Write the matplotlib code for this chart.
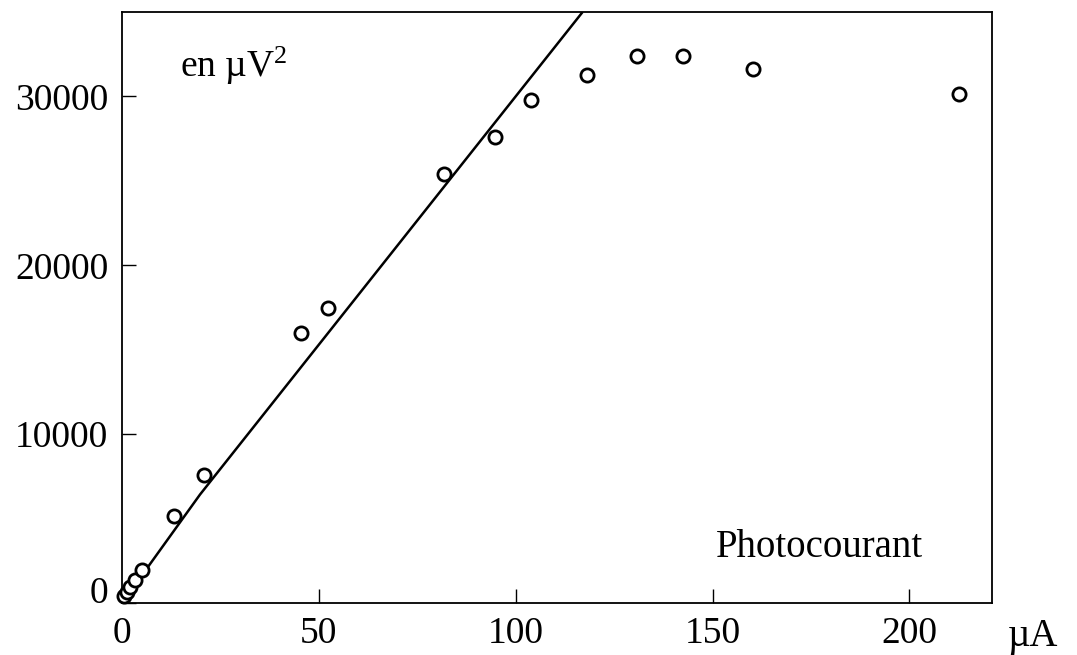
import matplotlib
matplotlib.use("Agg")
import matplotlib.pyplot as plt

plt.rcParams['font.family'] = ['Liberation Serif', 'DejaVu Serif']
plt.rcParams['mathtext.fontset'] = 'custom'
plt.rcParams['mathtext.rm'] = 'Liberation Serif'
plt.rcParams['mathtext.default'] = 'regular'

# Measured points (photocurrent in µA, noise power in µV^2)
current_uA = [0.5, 1.27, 2.0, 3.3, 4.95, 13.3, 20.9, 45.4, 52.4, 81.8,
              94.7, 103.8, 118.2, 130.9, 142.6, 160.3, 212.6]
noise_uV2 = [385, 680, 976, 1390, 1950, 5180, 7600, 15990, 17470, 25400,
             27600, 29790, 31240, 32410, 32410, 31640, 30170]

# Hand-drawn linear trend
fit_x = [0, 19.8, 117.0]
fit_y = [0, 6420, 35000]

xticks = [0, 50, 100, 150, 200]
xtick_labels = ['0', '50', '100', '150', '200']
yticks = [0, 10000, 20000, 30000]
ytick_labels = ['0', '10000', '20000', '30000']

fig = plt.figure(figsize=(10.77, 6.55), dpi=100)
ax = fig.add_axes([0.1133, 0.0794, 0.8078, 0.9023])

ax.plot(fit_x, fit_y, color='black', lw=1.8, solid_capstyle='butt')
ax.plot(current_uA, noise_uV2, 'o', ms=9.5, mfc='white', mec='black',
        mew=2.0, clip_on=False, zorder=3)

ax.set_xlim(0, 221)
ax.set_ylim(0, 35000)
ax.set_xticks(xticks)
ax.set_xticklabels(xtick_labels)
ax.set_yticks(yticks)
ax.set_yticklabels(ytick_labels)
ax.tick_params(direction='in', length=10, width=1.0, labelsize=27, pad=10)
ax.get_yticklabels()[0].set_verticalalignment('baseline')
for s in ax.spines.values():
    s.set_linewidth(1.3)

ax.text(0.0667, 0.89, r'en µV$^2$', transform=ax.transAxes, fontsize=27,
        ha='left', va='baseline')
ax.text(0.683, 0.078, 'Photocourant', transform=ax.transAxes, fontsize=28,
        ha='left', va='baseline')
ax.text(1.018, -0.0728, 'µA', transform=ax.transAxes, fontsize=28,
        ha='left', va='baseline', clip_on=False)

fig.savefig('out.png', dpi=100)
